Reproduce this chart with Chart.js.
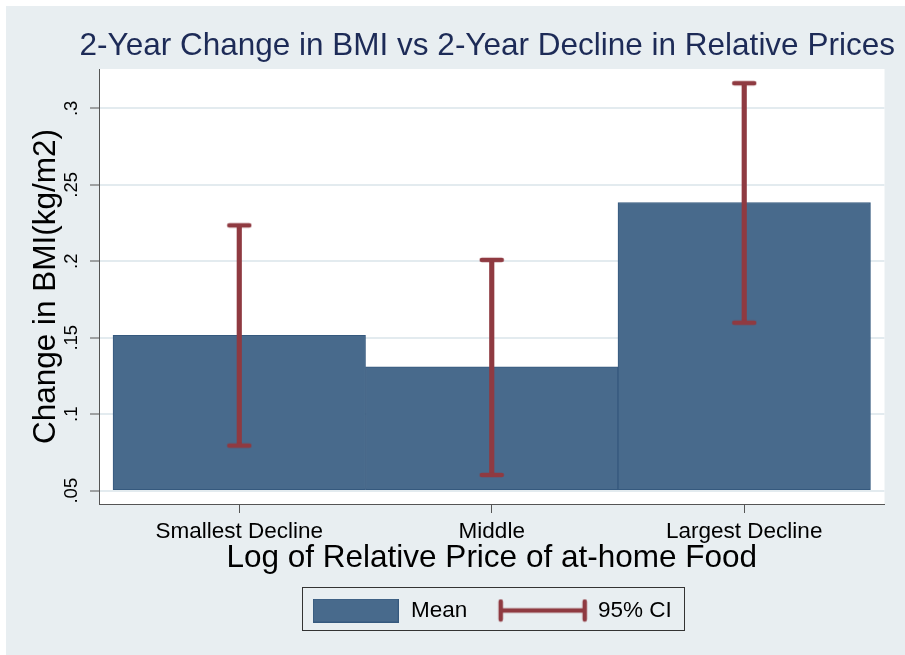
<!DOCTYPE html>
<html>
<head>
<meta charset="utf-8">
<title>2-Year Change in BMI vs 2-Year Decline in Relative Prices</title>
<script src="https://cdn.jsdelivr.net/npm/chart.js@4.4.1/dist/chart.umd.min.js"></script>
<style>
  html, body { margin: 0; padding: 0; background: #ffffff; }
  #wrap { width: 905px; height: 655px; position: relative; }
</style>
</head>
<body>
<div id="wrap"><canvas id="chart" width="905" height="655"></canvas></div>
<script>
// Price-decline groups and their x positions on the axis
const categories = ['Smallest Decline', 'Middle', 'Largest Decline'];
const positions = [1, 2, 3];

// Mean 2-year change in BMI (kg/m2) and its 95% confidence interval
const meanChange = [0.1516, 0.1310, 0.2384];
const ciLower = [0.0795, 0.0603, 0.1598];
const ciUpper = [0.2235, 0.2009, 0.3164];

// Y axis ticks
const yTickValues = [0.05, 0.1, 0.15, 0.2, 0.25, 0.3];
const yTickLabels = ['.05', '.1', '.15', '.2', '.25', '.3'];

const chartTitle = '2-Year Change in BMI vs 2-Year Decline in Relative Prices';

const BAR_FILL = '#486a8c';
const BAR_EDGE = '#35597e';
const CI_COLOR = '#8f3a41';
const PAGE_BG = '#e8eef1';
const GRID = '#e3ebef';
const FONT = '"Liberation Sans", Arial, Helvetica, sans-serif';

Chart.defaults.font.family = FONT;
Chart.defaults.color = '#000000';

// Legend symbols and CI end caps
function makeSwatch() {
  const c = document.createElement('canvas');
  c.width = 86; c.height = 24;
  const g = c.getContext('2d');
  g.fillStyle = BAR_FILL;
  g.fillRect(0, 0, 86, 24);
  g.strokeStyle = BAR_EDGE;
  g.lineWidth = 1;
  g.strokeRect(0.5, 0.5, 85, 23);
  return c;
}
function makeCiSymbol() {
  const c = document.createElement('canvas');
  c.width = 92; c.height = 24;
  const g = c.getContext('2d');
  g.strokeStyle = CI_COLOR;
  g.lineCap = 'round';
  g.lineWidth = 4.5;
  g.beginPath();
  g.moveTo(4, 12); g.lineTo(88, 12);
  g.moveTo(4, 3); g.lineTo(4, 21);
  g.moveTo(88, 3); g.lineTo(88, 21);
  g.stroke();
  return c;
}
function makeCap() {
  const c = document.createElement('canvas');
  c.width = 26; c.height = 8;
  const g = c.getContext('2d');
  g.strokeStyle = CI_COLOR;
  g.lineCap = 'round';
  g.lineWidth = 4.5;
  g.beginPath();
  g.moveTo(3, 4); g.lineTo(23, 4);
  g.stroke();
  return c;
}
const swatch = makeSwatch();
const ciSymbol = makeCiSymbol();
const capImage = makeCap();

// Page background, plot region, heading and the framed legend
const backdrop = {
  id: 'backdrop',
  beforeDraw(chart) {
    const { ctx, chartArea: a } = chart;
    ctx.save();
    ctx.fillStyle = '#ffffff';
    ctx.fillRect(0, 0, chart.width, chart.height);
    ctx.fillStyle = PAGE_BG;
    ctx.fillRect(6, 6, chart.width - 6, chart.height - 6);
    ctx.fillStyle = '#ffffff';
    ctx.fillRect(a.left, a.top, a.right - a.left, a.bottom - a.top);
    ctx.restore();
  },
  afterDraw(chart, args, opts) {
    const ctx = chart.ctx;
    const a = chart.chartArea;
    ctx.save();
    // heading above the plot
    ctx.fillStyle = opts.titleColor;
    ctx.font = opts.titleFont;
    ctx.textAlign = 'center';
    ctx.textBaseline = 'middle';
    ctx.fillText(opts.title, (a.left + a.right) / 2 - 4.5, a.top - 22.4);
    // frame round the legend entries
    const boxes = chart.legend && chart.legend.legendHitBoxes;
    if (boxes && boxes.length) {
      const first = boxes[0], last = boxes[boxes.length - 1];
      const x0 = Math.round(first.left - 10) + 0.5;
      const x1 = Math.round(last.left + last.width + 12) + 0.5;
      const y0 = Math.round(first.top - 12) + 0.5;
      const y1 = Math.round(first.top + first.height + 8) + 0.5;
      ctx.strokeStyle = '#333333';
      ctx.lineWidth = 1;
      ctx.strokeRect(x0, y0, x1 - x0, y1 - y0);
    }
    ctx.restore();
  }
};

new Chart(document.getElementById('chart'), {
  type: 'bar',
  data: {
    datasets: [
      {
        label: 'Mean',
        order: 3,
        data: positions.map((x, i) => ({ x, y: meanChange[i] })),
        base: 0.05,
        backgroundColor: BAR_FILL,
        borderColor: BAR_EDGE,
        borderWidth: 1,
        borderSkipped: false,
        barPercentage: 1,
        categoryPercentage: 1,
        grouped: false
      },
      {
        label: '95% CI',
        order: 2,
        data: positions.map((x, i) => ({ x, y: [ciLower[i], ciUpper[i]] })),
        backgroundColor: CI_COLOR,
        borderWidth: 0,
        barThickness: 4.5,
        grouped: false
      },
      {
        label: '95% CI ends',
        type: 'scatter',
        order: 1,
        data: positions.map((x, i) => ({ x, y: ciLower[i] }))
          .concat(positions.map((x, i) => ({ x, y: ciUpper[i] }))),
        pointStyle: capImage,
        pointRadius: 11,
        showLine: false
      }
    ]
  },
  options: {
    responsive: false,
    animation: false,
    events: [],
    layout: { padding: { left: 6, top: 69, right: 20.5, bottom: 23.25 } },
    plugins: {
      tooltip: { enabled: false },
      title: { display: false },
      backdrop: {
        title: chartTitle,
        titleColor: '#1d2b57',
        titleFont: '31.5px ' + FONT
      },
      legend: {
        display: true,
        position: 'bottom',
        fullSize: false,
        maxHeight: 64,
        labels: {
          usePointStyle: true,
          pointStyleWidth: 88,
          padding: 31.5,
          color: '#000000',
          font: { size: 22.5 },
          generateLabels() {
            return [
              { text: 'Mean', pointStyle: swatch, fillStyle: BAR_FILL, strokeStyle: BAR_EDGE, lineWidth: 0, hidden: false, datasetIndex: 0 },
              { text: '95% CI', pointStyle: ciSymbol, fillStyle: CI_COLOR, strokeStyle: CI_COLOR, lineWidth: 0, hidden: false, datasetIndex: 1 }
            ];
          }
        }
      }
    },
    scales: {
      x: {
        type: 'linear',
        position: 'bottom',
        offset: false,
        min: 0.4444,
        max: 3.5556,
        afterBuildTicks(scale) { scale.ticks = positions.map(v => ({ value: v })); },
        afterFit(scale) { scale.height = 63.75; },
        ticks: {
          padding: 5,
          color: '#000000',
          font: { size: 22.5 },
          maxRotation: 0,
          autoSkip: false,
          callback(value, index) { return categories[index]; }
        },
        grid: {
          offset: false,
          drawOnChartArea: false,
          drawTicks: true,
          tickLength: 9,
          tickColor: '#555555',
          tickWidth: 1
        },
        border: { display: true, color: '#555555', width: 1 },
        title: {
          display: true,
          text: 'Log of Relative Price of at-home Food',
          color: '#000000',
          font: { size: 31.5, lineHeight: 0.6 },
          padding: { top: 0, bottom: 0 }
        }
      },
      y: {
        type: 'linear',
        position: 'left',
        min: 0.0413,
        max: 0.3257,
        afterBuildTicks(scale) { scale.ticks = yTickValues.map(v => ({ value: v })); },
        afterFit(scale) { scale.width = 93; },
        ticks: {
          padding: 5,
          color: '#000000',
          font: { size: 18.5 },
          minRotation: 90,
          maxRotation: 90,
          crossAlign: 'center',
          autoSkip: false,
          callback(value, index) { return yTickLabels[index]; }
        },
        grid: {
          color: GRID,
          lineWidth: 2,
          drawTicks: true,
          tickLength: 9,
          tickColor: '#555555',
          tickWidth: 1
        },
        border: { display: true, color: '#555555', width: 1 },
        title: {
          display: true,
          text: 'Change in BMI(kg/m2)',
          color: '#000000',
          font: { size: 31.5 },
          padding: { top: 21.2, bottom: 0 }
        }
      }
    }
  },
  plugins: [backdrop]
});
</script>
</body>
</html>
